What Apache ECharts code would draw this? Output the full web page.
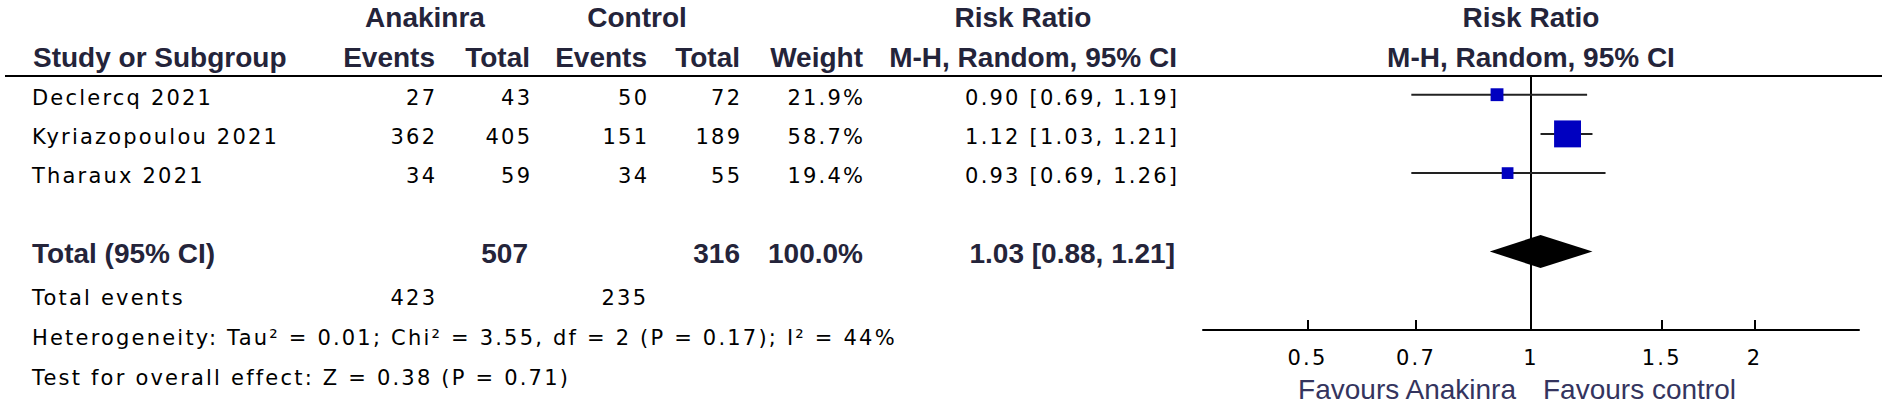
<!DOCTYPE html>
<html>
<head>
<meta charset="utf-8">
<script src="https://cdn.jsdelivr.net/npm/echarts@6/dist/echarts.min.js"></script>
<style>
html, body { margin: 0; padding: 0; background: #fff; }
#c { width: 1886px; height: 407px; }
#c text[style*="DejaVu"], #c text[font-family*="DejaVu"] { letter-spacing: 2.2px; }
</style>
</head>
<body>
<div id="c"></div>
<script>
// ---------------- data ----------------
const studies     = ['Declercq 2021', 'Kyriazopoulou 2021', 'Tharaux 2021'];
const expEvents   = [27, 362, 34];
const expTotal    = [43, 405, 59];
const ctrlEvents  = [50, 151, 34];
const ctrlTotal   = [72, 189, 55];
const weights     = [21.9, 58.7, 19.4];
const rrEst       = [0.90, 1.12, 0.93];
const rrLow       = [0.69, 1.03, 0.69];
const rrHigh      = [1.19, 1.21, 1.26];
const pooledRR    = [1.03, 0.88, 1.21];   // estimate, low, high
const totalsN     = [507, 316];           // anakinra, control
const totalWeight = [100.0];
const totalEvents = [423, 235];           // anakinra, control
const tickValues  = [0.5, 0.7, 1, 1.5, 2];
const heteroText  = 'Heterogeneity: Tau\u00b2 = 0.01; Chi\u00b2 = 3.55, df = 2 (P = 0.17); I\u00b2 = 44%';
const overallText = 'Test for overall effect: Z = 0.38 (P = 0.71)';
const groupNames  = ['Anakinra', 'Control'];
const favourTexts = ['Favours Anakinra', 'Favours control'];

// ---------------- styles / layout ----------------
const REG  = { fontFamily: 'DejaVu Sans', fontSize: 21, fontWeight: 'normal', fill: '#000' };
const BOLD = { fontFamily: 'Liberation Sans', fontSize: 28, fontWeight: 'bold', fill: '#24243a' };
const FAV  = { fontFamily: 'Liberation Sans', fontSize: 28, fontWeight: 'normal', fill: '#34345e' };
const LS = 2.2;
const COL = { name: 32, ee: 435, et: 530, ce: 647, ct: 740, w: 863, rr: 1177, anak: 425, ctrl: 637, rrHead: 1023 };
const BOX_K = 1.27;
const f2 = v => v.toFixed(2);
const ciText = (e, l, h) => f2(e) + ' [' + f2(l) + ', ' + f2(h) + ']';

function cell(x, text, align, st) {
  const adj = (st === REG && align === 'right') ? LS : 0;
  return { x: x + adj, text: String(text), align: align, st: st };
}

const tableRows = [];
tableRows.push({ row: -2, dy: 1, cells: [
  cell(COL.anak, groupNames[0], 'center', BOLD),
  cell(COL.ctrl, groupNames[1], 'center', BOLD),
  cell(COL.rrHead, 'Risk Ratio', 'center', BOLD)
]});
tableRows.push({ row: -1, dy: 1.5, rule: true, cells: [
  cell(33, 'Study or Subgroup', 'left', BOLD),
  cell(COL.ee, 'Events', 'right', BOLD),
  cell(COL.et, 'Total', 'right', BOLD),
  cell(COL.ce, 'Events', 'right', BOLD),
  cell(COL.ct, 'Total', 'right', BOLD),
  cell(COL.w, 'Weight', 'right', BOLD),
  cell(COL.rr, 'M-H, Random, 95% CI', 'right', BOLD)
]});
studies.forEach((s, i) => {
  tableRows.push({ row: i, dy: 2.8, cells: [
    cell(COL.name, s, 'left', REG),
    cell(COL.ee, expEvents[i], 'right', REG),
    cell(COL.et, expTotal[i], 'right', REG),
    cell(COL.ce, ctrlEvents[i], 'right', REG),
    cell(COL.ct, ctrlTotal[i], 'right', REG),
    cell(COL.w, weights[i].toFixed(1) + '%', 'right', REG),
    cell(COL.rr, ciText(rrEst[i], rrLow[i], rrHigh[i]), 'right', REG)
  ]});
});
tableRows.push({ row: 4, dy: 2, cells: [
  cell(COL.name, 'Total (95% CI)', 'left', BOLD),
  cell(COL.et - 2, totalsN[0], 'right', BOLD),
  cell(COL.ct, totalsN[1], 'right', BOLD),
  cell(COL.w, totalWeight[0].toFixed(1) + '%', 'right', BOLD),
  cell(COL.rr - 2, ciText(pooledRR[0], pooledRR[1], pooledRR[2]), 'right', BOLD)
]});
tableRows.push({ row: 5.12, dy: 3, cells: [
  cell(COL.name, 'Total events', 'left', REG),
  cell(COL.ee, totalEvents[0], 'right', REG),
  cell(COL.ce - 1, totalEvents[1], 'right', REG)
]});
tableRows.push({ row: 6.14, dy: 3, cells: [ cell(COL.name, heteroText, 'left', REG) ]});
tableRows.push({ row: 7.16, dy: 3, cells: [ cell(COL.name, overallText, 'left', REG) ]});

function textEl(x, y, c) {
  return { type: 'text', x: x, y: y, style: {
    text: c.text, fill: c.st.fill, fontFamily: c.st.fontFamily, fontSize: c.st.fontSize,
    fontWeight: c.st.fontWeight, align: c.align, verticalAlign: 'middle'
  }};
}

const chart = echarts.init(document.getElementById('c'), null, { renderer: 'svg' });

const tickLabel = v => {
  const t = tickValues.find(t => Math.abs(Math.log(t) - v) < 1e-6);
  return t === undefined ? '' : String(t);
};

const option = {
  backgroundColor: '#fff',
  animation: false,
  grid: [
    { left: 0, right: 0, top: 16.3, bottom: 77.1 },
    { left: 1203, width: 656, top: 16.3, bottom: 77.1 }
  ],
  xAxis: [
    { gridIndex: 0, type: 'value', min: 0, max: 1886, show: false },
    { gridIndex: 1, type: 'value', min: -1.017, max: 1.017,
      axisLine: { show: true, onZero: false, lineStyle: { color: '#000', width: 2 } },
      axisTick: { show: true, inside: true, length: 10, customValues: tickValues.map(Math.log),
                  lineStyle: { color: '#000', width: 2 } },
      axisLabel: { show: true, margin: 18, customValues: tickValues.map(Math.log), formatter: tickLabel,
                   color: '#000', fontFamily: 'DejaVu Sans', fontSize: 21 },
      splitLine: { show: false } }
  ],
  yAxis: [
    { gridIndex: 0, type: 'value', min: -2, max: 6, inverse: true, show: false },
    { gridIndex: 1, type: 'value', min: -2, max: 6, inverse: true, show: false }
  ],
  series: [
    { // table text
      type: 'custom', xAxisIndex: 0, yAxisIndex: 0, clip: false, silent: true,
      data: tableRows.map((r, i) => [0, r.row, i]),
      encode: { x: 0, y: 1 },
      renderItem: function (params, api) {
        const r = tableRows[params.dataIndex];
        const y = api.coord([0, r.row])[1] + r.dy;
        const children = r.cells.map(c => textEl(c.x, y, c));
        if (r.rule) {
          const ry = Math.round(api.coord([0, -0.48])[1]);
          children.push({ type: 'line', shape: { x1: 5, y1: ry, x2: 1882, y2: ry },
                          style: { stroke: '#000', lineWidth: 2 } });
        }
        return { type: 'group', children: children };
      }
    },
    { // frame of the forest plot: null line, headers, favours labels
      type: 'custom', xAxisIndex: 1, yAxisIndex: 1, clip: false, silent: true,
      data: [[0, -2]],
      encode: { x: 0, y: 1 },
      renderItem: function (params, api) {
        const top = api.coord([0, -0.48]);
        const bot = api.coord([0, 6]);
        const x0 = Math.round(top[0]);
        const h1 = api.coord([0, -2])[1] + 1;
        const h2 = api.coord([0, -1])[1] + 1.5;
        return { type: 'group', children: [
          { type: 'line', shape: { x1: x0, y1: top[1], x2: x0, y2: bot[1] }, style: { stroke: '#000', lineWidth: 2 } },
          textEl(x0, h1, { text: 'Risk Ratio', align: 'center', st: BOLD }),
          textEl(x0, h2, { text: 'M-H, Random, 95% CI', align: 'center', st: BOLD }),
          textEl(x0 - 15, bot[1] + 60, { text: favourTexts[0], align: 'right', st: FAV }),
          textEl(x0 + 12, bot[1] + 60, { text: favourTexts[1], align: 'left', st: FAV })
        ]};
      }
    },
    { // study CIs and boxes
      type: 'custom', xAxisIndex: 1, yAxisIndex: 1, clip: false, silent: true,
      data: studies.map((s, i) => [Math.log(rrEst[i]), i, Math.log(rrLow[i]), Math.log(rrHigh[i]), weights[i]]),
      encode: { x: 0, y: 1 },
      renderItem: function (params, api) {
        const row = api.value(1);
        const p0 = api.coord([api.value(2), row]);
        const p1 = api.coord([api.value(3), row]);
        const c = api.coord([api.value(0), row]);
        const s = BOX_K * Math.pow(api.value(4), 0.75);
        return { type: 'group', children: [
          { type: 'line', shape: { x1: p0[0], y1: p0[1], x2: p1[0], y2: p1[1] }, style: { stroke: '#222', lineWidth: 2 } },
          { type: 'rect', shape: { x: c[0] - s / 2, y: c[1] - s / 2, width: s, height: s }, style: { fill: '#0000C0' } }
        ]};
      }
    },
    { // pooled diamond
      type: 'custom', xAxisIndex: 1, yAxisIndex: 1, clip: false, silent: true,
      data: [[Math.log(pooledRR[0]), 4, Math.log(pooledRR[1]), Math.log(pooledRR[2])]],
      encode: { x: 0, y: 1 },
      renderItem: function (params, api) {
        const row = api.value(1);
        const c = api.coord([api.value(0), row]);
        const l = api.coord([api.value(2), row]);
        const r = api.coord([api.value(3), row]);
        const hh = 16.5;
        return { type: 'polygon', shape: { points: [[l[0], c[1]], [c[0], c[1] - hh], [r[0], c[1]], [c[0], c[1] + hh]] },
                 style: { fill: '#000' } };
      }
    }
  ]
};
chart.setOption(option);
</script>
</body>
</html>
